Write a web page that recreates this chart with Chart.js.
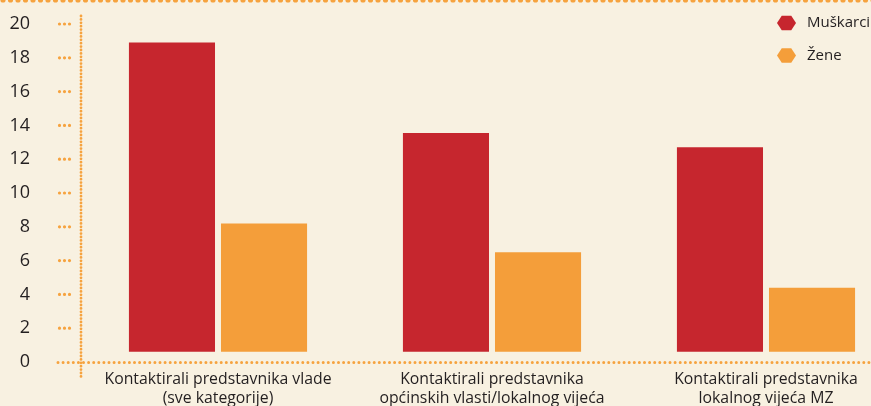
<!DOCTYPE html>
<html>
<head>
<meta charset="utf-8">
<script src="https://cdn.jsdelivr.net/npm/chart.js@4/dist/chart.umd.min.js"></script>
<style>
  html, body { margin: 0; padding: 0; background: #F8F1E1; overflow: hidden; }
  #wrap { position: relative; width: 903px; height: 406px; }
</style>
</head>
<body>
<div id="wrap"><canvas id="c"></canvas></div>
<script>
// Categories (multi-line axis labels)
const categories = [
  ["Kontaktirali predstavnika vlade", "(sve kategorije)"],
  ["Kontaktirali predstavnika", "općinskih vlasti/lokalnog vijeća"],
  ["Kontaktirali predstavnika", "lokalnog vijeća MZ"]
];
const seriesNames = ["Muškarci", "Žene"];
const muskarci = [18.9, 13.55, 12.7];
const zene = [8.2, 6.5, 4.4];
const yTicks = [0, 2, 4, 6, 8, 10, 12, 14, 16, 18, 20];

const RED = "#C6262E";
const ORANGE = "#F49E3A";
const DOT = "#F6A33F";
const TEXT = "#231F20";
const FONT = "'Open Sans', 'Noto Sans', sans-serif";

function dotsLine(ctx, x0, y0, x1, y1, step, r) {
  const len = Math.hypot(x1 - x0, y1 - y0);
  const n = Math.floor(len / step);
  ctx.beginPath();
  for (let i = 0; i <= n; i++) {
    const t = n === 0 ? 0 : (i * step) / len;
    const x = x0 + (x1 - x0) * t, y = y0 + (y1 - y0) * t;
    ctx.moveTo(x + r, y);
    ctx.arc(x, y, r, 0, Math.PI * 2);
  }
  ctx.fill();
}

function hexagon(ctx, cx, cy, w, h) {
  ctx.beginPath();
  ctx.moveTo(cx - w / 2, cy);
  ctx.lineTo(cx - w / 4, cy - h / 2);
  ctx.lineTo(cx + w / 4, cy - h / 2);
  ctx.lineTo(cx + w / 2, cy);
  ctx.lineTo(cx + w / 4, cy + h / 2);
  ctx.lineTo(cx - w / 4, cy + h / 2);
  ctx.closePath();
  ctx.fill();
}

// Dotted frame, axes, tick marks and hexagon legend
const decor = {
  id: "decor",
  beforeDatasetsDraw(chart) {
    const ctx = chart.ctx;
    const area = chart.chartArea;
    const y = chart.scales.y;
    const y0 = y.getPixelForValue(0);
    ctx.save();
    ctx.fillStyle = DOT;
    // top border
    dotsLine(ctx, 3, 0, 903, 0, 7.5, 2.6);
    // value axis
    dotsLine(ctx, area.left, y.getPixelForValue(20) - 8, area.left, y0 + 15, 3.4, 1.4);
    // category axis
    dotsLine(ctx, 58, y0 + 0.6, 903, y0 + 0.6, 5.1, 1.5);
    // tick marks
    yTicks.forEach(v => {
      if (v === 0) return;
      const py = y.getPixelForValue(v);
      dotsLine(ctx, 59.5, py, 69.5, py, 5, 1.6);
    });
    ctx.restore();
  },
  afterDraw(chart) {
    const ctx = chart.ctx;
    ctx.save();
    ctx.font = "15px " + FONT;
    ctx.textBaseline = "middle";
    ctx.textAlign = "left";
    chart.data.datasets.forEach((ds, i) => {
      const cy = 23 + i * 32.5;
      ctx.fillStyle = ds.backgroundColor;
      hexagon(ctx, 786.5, cy, 19, 14.5);
      ctx.fillStyle = TEXT;
      ctx.fillText(ds.label, 807, cy);
    });
    ctx.restore();
  }
};

new Chart(document.getElementById("c"), {
  type: "bar",
  data: {
    labels: categories,
    datasets: [
      { label: seriesNames[0], data: muskarci, backgroundColor: RED },
      { label: seriesNames[1], data: zene, backgroundColor: ORANGE }
    ]
  },
  options: {
    responsive: true,
    maintainAspectRatio: false,
    animation: false,
    events: [],
    layout: { padding: { top: 24, right: 0, left: 0, bottom: 0 } },
    datasets: {
      bar: {
        base: 0.6,
        categoryPercentage: 0.672,
        barPercentage: 0.935,
        borderWidth: 0
      }
    },
    plugins: {
      legend: { display: false },
      tooltip: { enabled: false }
    },
    scales: {
      x: {
        grid: { display: false, drawTicks: false },
        border: { display: false },
        ticks: {
          color: TEXT,
          font: { family: FONT, size: 15.8, lineHeight: 1.22 },
          padding: 8,
          maxRotation: 0,
          autoSkip: false
        },
        afterFit(scale) {
          scale.height = 44;
          scale.paddingLeft = 0;
          scale.paddingRight = 0;
        }
      },
      y: {
        min: 0,
        max: 20,
        afterBuildTicks(scale) { scale.ticks = yTicks.map(v => ({ value: v })); },
        grid: { display: false, drawTicks: false },
        border: { display: false },
        ticks: {
          color: TEXT,
          font: { family: FONT, size: 18 },
          padding: 51
        },
        afterFit(scale) {
          scale.width = 81;
          scale.paddingTop = 0;
          scale.paddingBottom = 0;
        }
      }
    }
  },
  plugins: [decor]
});
</script>
</body>
</html>
